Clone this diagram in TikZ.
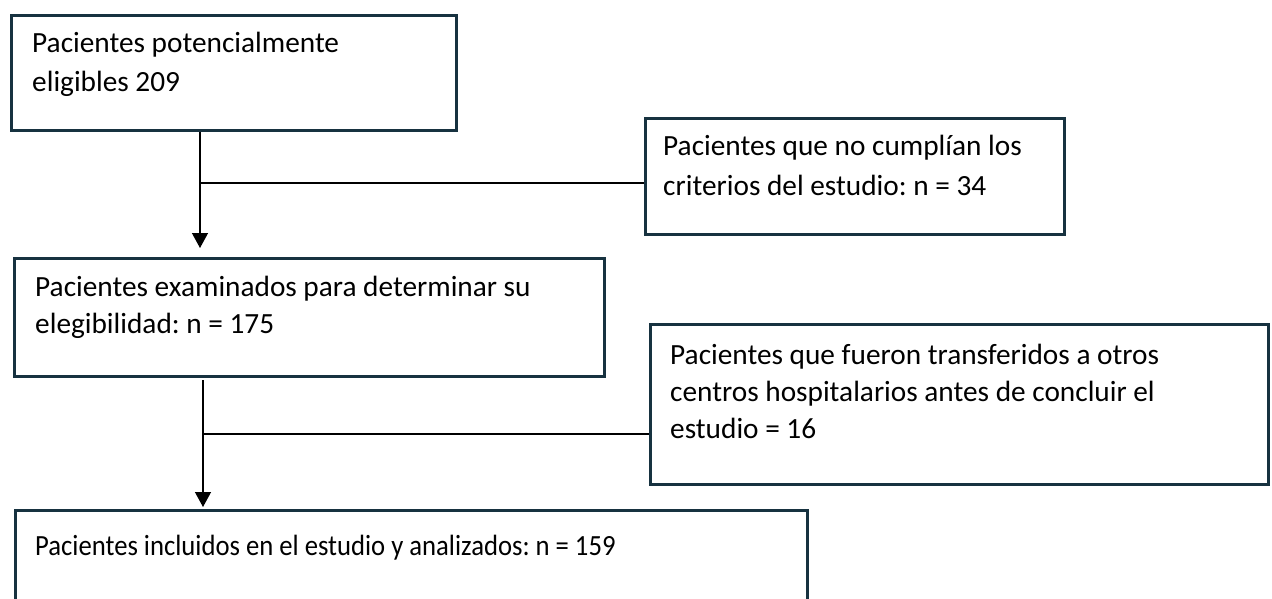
\documentclass[tikz,border=0pt]{standalone}
\usepackage{fontspec}
\setmainfont{Carlito}
\usetikzlibrary{arrows.meta}
\definecolor{boxline}{HTML}{173240}
\frenchspacing
\begin{document}
\begin{tikzpicture}[x=1pt,y=-1pt,
  boxframe/.style={draw=boxline,line width=2.6pt,inner sep=0pt},
  boxtext/.style={anchor=base west,align=left,inner sep=0pt,font=\fontsize{29.3}{39.5}\selectfont},
  tight/.style={font=\fontsize{29.3}{37}\selectfont},
  conn/.style={draw=black,line width=1.3pt},
  arr/.style={conn,-{Triangle[width=16pt,length=15pt]}}]
\useasboundingbox (0,0) rectangle (1272,599);
\clip (0,0) rectangle (1272,599);
\path[fill=white] (0,0) rectangle (1272,599);
% boxes
\node[boxframe,anchor=north west,minimum width=445pt,minimum height=115pt] (b1) at (10,14) {};
\node[boxframe,anchor=north west,minimum width=419pt,minimum height=116pt] (b2) at (644,117) {};
\node[boxframe,anchor=north west,minimum width=590pt,minimum height=118pt] (b3) at (13,257) {};
\node[boxframe,anchor=north west,minimum width=618pt,minimum height=160pt] (b4) at (649,323) {};
\node[boxframe,anchor=north west,minimum width=792pt,minimum height=140pt] (b5) at (14,509) {};
% texts (anchored at the baseline of their last line)
\node[boxtext] (t1) at (32,92) {Pacientes potencialmente\\eligibles 209};
\node[boxtext] (t2) at (663,195) {Pacientes que no cumplían los\\criterios del estudio: n = 34};
\node[boxtext,tight] (t3) at (35,333) {Pacientes examinados para determinar su\\elegibilidad: n = 175};
\node[boxtext,tight] (t4) at (670,438) {Pacientes que fueron transferidos a otros\\centros hospitalarios antes de concluir el\\estudio = 16};
\node[boxtext] (t5) at (35,555) {\scalebox{0.91}[1]{Pacientes incluidos en el estudio y analizados: n = 159}};
% connectors
\coordinate (j1) at (200,183);
\coordinate (e1) at (200,248);
\coordinate (s2) at (203,380);
\coordinate (j2) at (203,434);
\coordinate (e2) at (203,507);
\draw[arr] (b1.south -| j1) -- (e1);
\draw[conn] (j1) -- (b2.west |- j1);
\draw[arr] (s2) -- (e2);
\draw[conn] (j2) -- (b4.west |- j2);
\end{tikzpicture}
\end{document}
